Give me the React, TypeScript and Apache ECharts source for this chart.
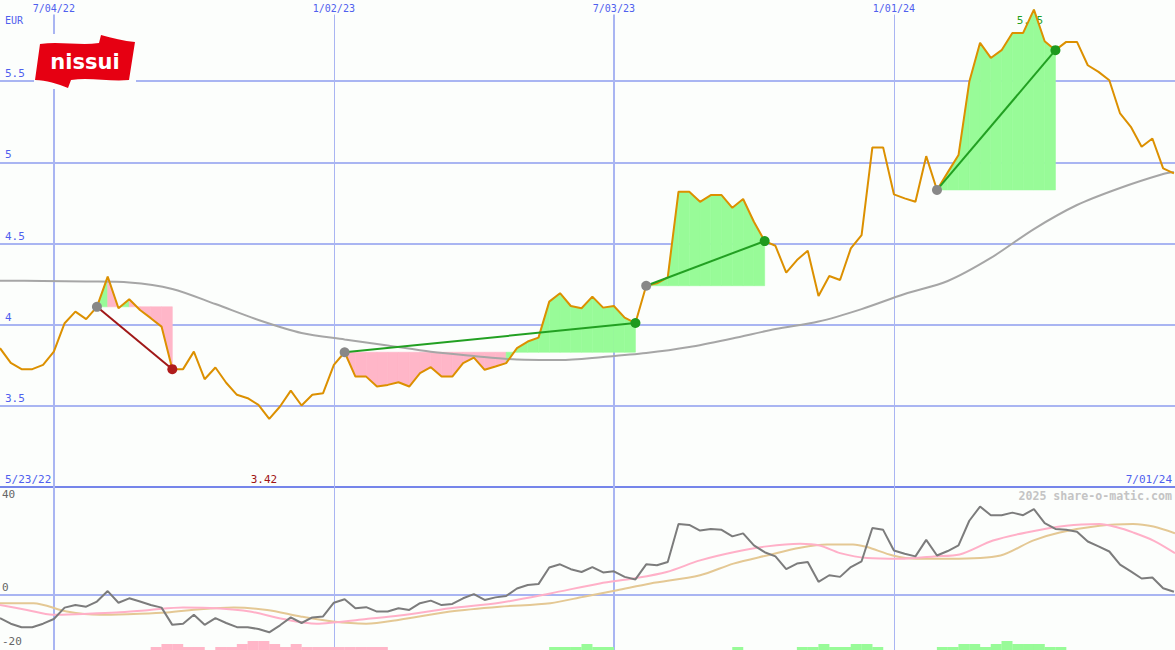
import React, { useEffect, useRef } from "react";
import * as echarts from "echarts";

// ---------- data ----------
// x values are week indices counted from 5/30/22 (week 0)
const xMaxWeeks = 109.1;
const dateTickWeeks = [5, 31, 57, 83];
const dateTickLabels = ["7/04/22", "1/02/23", "7/03/23", "1/01/24"];
const dateTickMajor = [true, false, true, false];

// weekly closing prices (EUR)
const price = [
  3.855, 3.765, 3.726, 3.726, 3.752, 3.834, 4.009, 4.08, 4.034, 4.11,
  4.296, 4.101, 4.157, 4.09, 4.04, 3.988, 3.726, 3.726, 3.834, 3.664,
  3.736, 3.642, 3.568, 3.547, 3.506, 3.42, 3.496, 3.594, 3.502, 3.568,
  3.578, 3.752, 3.83, 3.68, 3.68, 3.619, 3.629, 3.645, 3.619, 3.701,
  3.738, 3.68, 3.68, 3.763, 3.797, 3.722, 3.742, 3.763, 3.855, 3.896,
  3.92, 4.142, 4.194, 4.115, 4.101, 4.173, 4.105, 4.115, 4.043, 4.01,
  4.24, 4.255, 4.292, 4.819, 4.819, 4.757, 4.798, 4.798, 4.72, 4.774,
  4.634, 4.515, 4.486, 4.32, 4.398, 4.456, 4.177, 4.3, 4.275, 4.47,
  4.552, 5.092, 5.092, 4.803, 4.778, 4.757, 5.038, 4.83, 4.938, 5.045,
  5.496, 5.736, 5.643, 5.691, 5.797, 5.797, 5.941, 5.746, 5.691, 5.742,
  5.742, 5.598, 5.557, 5.506, 5.301, 5.219, 5.096, 5.147, 4.963, 4.932,
];

// long moving average (grey line, top panel)
const maWeeks = [0, 4, 8, 12, 16, 20, 24, 28, 32, 36, 40, 44, 48, 52, 56, 60, 64, 68, 72, 76, 80, 84, 88, 92, 96, 100, 104, 108, 109];
const maValues = [4.271, 4.269, 4.266, 4.26, 4.22, 4.127, 4.029, 3.949, 3.909, 3.872, 3.833, 3.807, 3.785, 3.782, 3.801, 3.825, 3.862, 3.915, 3.973, 4.019, 4.096, 4.189, 4.269, 4.411, 4.589, 4.737, 4.842, 4.928, 4.94];

// trades (entry / exit week)
const tradeEntryWeeks = [9, 32, 60, 87];
const tradeExitWeeks = [16, 59, 71, 98];

// extreme labels
const lowLabel = "3.42";
const highLabel = "5.95";

// lower panel: momentum (weekly)
const momentum = [
  -9.9, -12.3, -13.8, -13.8, -12.3, -10.3, -5.4, -4.3, -5.0, -2.8,
  1.7, -3.3, -1.4, -2.8, -4.3, -5.4, -12.8, -12.3, -8.5, -12.8,
  -9.9, -12.0, -13.8, -13.8, -14.6, -16.0, -13.0, -9.6, -12.0, -9.6,
  -9.2, -3.3, -1.8, -5.7, -5.2, -7.1, -7.1, -5.7, -6.4, -3.5,
  -2.4, -4.3, -3.8, -1.4, 0.4, -2.1, -1.0, -0.4, 2.8, 4.3,
  4.7, 11.8, 13.2, 11.1, 9.9, 12.0, 9.7, 10.2, 7.8, 6.7,
  13.2, 12.8, 14.2, 30.5, 30.1, 27.7, 28.4, 28.0, 25.2, 26.5,
  21.3, 18.4, 16.6, 11.1, 13.5, 14.2, 5.7, 8.5, 7.8, 12.0,
  14.5, 28.8, 28.0, 19.1, 17.7, 16.6, 23.7, 17.0, 18.9, 21.3,
  31.9, 38.0, 34.3, 34.3, 35.4, 34.3, 36.9, 30.9, 28.4, 28.0,
  27.2, 23.0, 20.9, 18.7, 13.1, 10.2, 7.1, 7.5, 2.9, 1.4,
];

// lower panel: pink signal line
const pinkWeeks = [0, 2.5, 4.9, 7.7, 10.8, 13.9, 17.0, 20.1, 23.2, 26.3, 29.4, 30.9, 34.0, 37.1, 41.8, 46.4, 51.1, 55.7, 58.8, 61.9, 65.0, 68.1, 71.2, 74.3, 76.1, 78.0, 80.5, 83.6, 86.7, 89.1, 92.2, 95.3, 99.0, 102.1, 103.7, 105.2, 107.1, 109.1];
const pinkValues = [-4.3, -6.4, -8.5, -8.1, -7.5, -6.4, -5.4, -5.7, -7.1, -10.3, -12.3, -11.8, -10.3, -8.8, -5.7, -3.3, 0.7, 5.0, 7.1, 9.9, 14.9, 18.4, 20.9, 22.0, 21.3, 18.0, 15.9, 15.6, 16.6, 17.4, 23.4, 26.9, 29.8, 30.5, 29.1, 26.9, 23.4, 18.0];

// lower panel: tan signal line
const tanWeeks = [0, 3.1, 6.2, 9.3, 12.4, 15.5, 18.6, 21.7, 24.8, 27.9, 30.9, 34.0, 37.1, 41.8, 46.4, 51.1, 54.2, 57.3, 60.4, 65.0, 68.1, 71.2, 74.3, 76.8, 79.2, 80.5, 82.9, 85.1, 88.2, 92.9, 95.9, 98.4, 102.1, 105.2, 107.1, 109.1];
const tanValues = [-3.5, -3.5, -7.1, -8.5, -8.1, -7.5, -6.1, -5.4, -6.4, -9.2, -11.4, -12.3, -10.6, -7.1, -5.0, -3.5, -0.7, 2.1, 5.0, 8.5, 13.5, 17.0, 20.3, 21.7, 21.7, 20.6, 17.0, 15.6, 15.6, 17.0, 23.4, 26.9, 29.8, 30.5, 29.4, 26.5];

// lower panel histogram (week bins and level 1..3)
const pinkBarWeeks = [14, 15, 16, 17, 18, 20, 21, 22, 23, 24, 25, 26, 27, 28, 29, 30, 31, 32, 33, 34, 35];
const pinkBarLevels = [1, 2, 2, 1, 1, 1, 1, 2, 3, 3, 2, 1, 2, 1, 1, 1, 1, 1, 1, 1, 1];
const greenBarWeeks = [51, 52, 53, 54, 55, 56, 68, 74, 75, 76, 77, 78, 79, 80, 81, 87, 88, 89, 90, 91, 92, 93, 94, 95, 96, 97, 98];
const greenBarLevels = [1, 1, 1, 2, 1, 1, 1, 1, 1, 2, 1, 1, 2, 2, 1, 1, 1, 2, 2, 1, 2, 3, 2, 2, 2, 1, 1];

const oscTicks = [40, 0, -20];

// ---------- style ----------
const BG = "#fcfefc";
const BLUE_TXT = "#4f60ee";
const GRID_C = "#a9b5f2";
const SEP_C = "#7585ea";
const MONO = "DejaVu Sans Mono";
const GREEN_FILL = "#98fb98";
const PINK_FILL = "#ffb6c8";

echarts.graphic.registerShape(
  "nissuiFlag",
  echarts.graphic.extendPath(
    "M40 44 C60 41 80 46 99 43 L101 35 C112 38 124 41 135 42 L129 80 C110 82 90 77 71 80 L68 88 C58 84 46 80 35 80 Z",
    {}
  )
);

export default function App() {
  const ref = useRef<HTMLDivElement>(null);

  useEffect(() => {
    if (!ref.current) return;
    const chart = echarts.init(ref.current, undefined, { renderer: "svg" });

    const fillData: number[][] = [];
    tradeEntryWeeks.forEach((ew, t) => {
      const entry = price[ew];
      for (let j = ew; j < tradeExitWeeks[t]; j++) {
        fillData.push([j, price[j], j + 1, price[j + 1], entry]);
      }
    });

    const tradeSeries = tradeEntryWeeks.map((ew, t) => {
      const xw = tradeExitWeeks[t];
      const gain = price[xw] >= price[ew];
      const col = gain ? "#22a022" : "#a01818";
      return {
        type: "line",
        xAxisIndex: 0,
        yAxisIndex: 0,
        z: 6,
        symbol: "circle",
        symbolSize: 10,
        lineStyle: { color: col, width: 2 },
        data: [
          { value: [ew, price[ew]], itemStyle: { color: "#888888" } },
          { value: [xw, price[xw]], itemStyle: { color: gain ? "#1e9a1e" : "#b01c1c" } },
        ],
      };
    });

    const option: any = {
      animation: false,
      backgroundColor: BG,
      grid: [
        { left: 0, right: 0, top: 0, height: 487 },
        { left: 0, right: 0, top: 487, height: 163 },
      ],
      xAxis: [
        {
          type: "value", gridIndex: 0, min: 0, max: xMaxWeeks,
          axisLabel: { show: false }, axisTick: { show: false }, splitLine: { show: false },
          axisLine: { show: true, onZero: false, lineStyle: { color: SEP_C, width: 2 } },
        },
        {
          type: "value", gridIndex: 1, min: 0, max: xMaxWeeks,
          axisLabel: { show: false }, axisTick: { show: false }, splitLine: { show: false },
          axisLine: { show: false },
        },
      ],
      yAxis: [
        {
          type: "value", gridIndex: 0, min: 3, max: 6, interval: 0.5,
          axisLine: { show: false }, axisTick: { show: false },
          splitLine: { show: true, showMinLine: false, showMaxLine: false, lineStyle: { color: GRID_C, width: 2 } },
          axisLabel: {
            inside: true, showMinLabel: false, showMaxLabel: false,
            color: BLUE_TXT, fontFamily: MONO, fontSize: 11,
            verticalAlign: "bottom", margin: 5, padding: [0, 0, 2, 0],
          },
        },
        { type: "value", gridIndex: 1, min: -23.6, max: 46.4, show: false },
        { type: "value", gridIndex: 1, min: 0, max: 54.3, show: false },
      ],
      graphic: [
        { type: "rect", z: 100, shape: { x: 34, y: 34, width: 102, height: 55 }, style: { fill: BG } },
        { type: "nissuiFlag", z: 101, x: 0, y: 0, scaleX: 1, scaleY: 1, style: { fill: "#e60012" } },
        {
          type: "text", z: 102, x: 85, y: 62,
          style: { text: "nissui", fill: "#ffffff", font: "bold 21px 'DejaVu Sans'", textAlign: "center", textVerticalAlign: "middle" },
        },
        { type: "text", x: 5, y: 15, style: { text: "EUR", fill: BLUE_TXT, font: `10px '${MONO}'` } },
        { type: "text", x: 5, y: 474, style: { text: "5/23/22", fill: BLUE_TXT, font: `11px '${MONO}'` } },
        { type: "text", x: 1172, y: 474, style: { text: "7/01/24", fill: BLUE_TXT, font: `11px '${MONO}'`, textAlign: "right" } },
        { type: "text", x: 264, y: 474, style: { text: lowLabel, fill: "#a01414", font: `11px '${MONO}'`, textAlign: "center" } },
        { type: "text", x: 1030, y: 15, style: { text: highLabel, fill: "#22a022", font: `11px '${MONO}'`, textAlign: "center" } },
        { type: "text", x: 1172, y: 490, style: { text: "2025 share-o-matic.com", fill: "#c4c4c4", font: `bold 11.6px '${MONO}'`, textAlign: "right" } },
      ],
      series: [
        {
          type: "line", xAxisIndex: 0, yAxisIndex: 0, data: [], z: 1,
          markLine: {
            silent: true, symbol: "none", z: 1, animation: false,
            lineStyle: { type: "solid", color: GRID_C },
            label: { show: true, position: "end", distance: 1, color: BLUE_TXT, fontFamily: MONO, fontSize: 10 },
            data: dateTickWeeks.map((w, i) => [
              { coord: [w, 3], lineStyle: { type: "solid", color: GRID_C, width: dateTickMajor[i] ? 2 : 1 }, label: { formatter: dateTickLabels[i] } },
              { coord: [w, 5.91] },
            ]),
          },
        },
        {
          type: "custom", xAxisIndex: 0, yAxisIndex: 0, z: 3,
          encode: { x: [0, 2], y: [1, 3, 4] },
          data: fillData,
          renderItem: (params: any, api: any) => {
            const x0 = api.value(0), y0 = api.value(1), x1 = api.value(2), y1 = api.value(3), e = api.value(4);
            const col = y1 >= e ? GREEN_FILL : PINK_FILL;
            return {
              type: "polygon",
              shape: { points: [api.coord([x0, y0]), api.coord([x1, y1]), api.coord([x1, e]), api.coord([x0, e])] },
              style: { fill: col, stroke: col, lineWidth: 0.6 },
            };
          },
        },
        {
          type: "line", xAxisIndex: 0, yAxisIndex: 0, z: 4, symbol: "none", smooth: 0.3,
          lineStyle: { color: "#a6a6a6", width: 2 },
          data: maWeeks.map((w, i) => [w, maValues[i]]),
        },
        {
          type: "line", xAxisIndex: 0, yAxisIndex: 0, z: 5, symbol: "none",
          lineStyle: { color: "#dc9000", width: 2 },
          data: price.map((v, i) => [i, v]),
        },
        ...tradeSeries,
        {
          type: "line", xAxisIndex: 1, yAxisIndex: 1, data: [], z: 1,
          markLine: {
            silent: true, symbol: "none", z: 1, animation: false,
            lineStyle: { type: "solid", color: GRID_C },
            label: { show: false },
            data: [
              ...dateTickWeeks.map((w, i) => ({ xAxis: w, lineStyle: { type: "solid", color: GRID_C, width: dateTickMajor[i] ? 2 : 1 } })),
              ...oscTicks.map((v) => ({
                yAxis: v,
                lineStyle: { type: "solid", color: v === 0 ? GRID_C : "rgba(0,0,0,0)", width: 2 },
                label: {
                  show: true, position: "insideStartTop", formatter: String(v),
                  color: "#666666", fontFamily: MONO, fontSize: 11, distance: 2,
                  offset: v === -20 ? [0, 7] : [0, 0],
                },
              })),
            ],
          },
        },
        {
          type: "bar", xAxisIndex: 1, yAxisIndex: 2, z: 2, barWidth: 11, barGap: "-100%",
          itemStyle: { color: PINK_FILL },
          data: pinkBarWeeks.map((w, i) => [w + 0.5, pinkBarLevels[i]]),
        },
        {
          type: "bar", xAxisIndex: 1, yAxisIndex: 2, z: 2, barWidth: 11, barGap: "-100%",
          itemStyle: { color: GREEN_FILL },
          data: greenBarWeeks.map((w, i) => [w + 0.5, greenBarLevels[i]]),
        },
        {
          type: "line", xAxisIndex: 1, yAxisIndex: 1, z: 3, symbol: "none", smooth: 0.3,
          lineStyle: { color: "#e4c894", width: 2 },
          data: tanWeeks.map((w, i) => [w, tanValues[i]]),
        },
        {
          type: "line", xAxisIndex: 1, yAxisIndex: 1, z: 4, symbol: "none", smooth: 0.3,
          lineStyle: { color: "#ffb0c8", width: 2 },
          data: pinkWeeks.map((w, i) => [w, pinkValues[i]]),
        },
        {
          type: "line", xAxisIndex: 1, yAxisIndex: 1, z: 5, symbol: "none",
          lineStyle: { color: "#7c7c7c", width: 2 },
          data: momentum.map((v, i) => [i, v]),
        },
      ],
    };

    chart.setOption(option);
    return () => chart.dispose();
  }, []);

  return (
    <div
      ref={ref}
      style={{ position: "fixed", left: 0, top: 0, width: 1175, height: 650, background: BG }}
    />
  );
}
